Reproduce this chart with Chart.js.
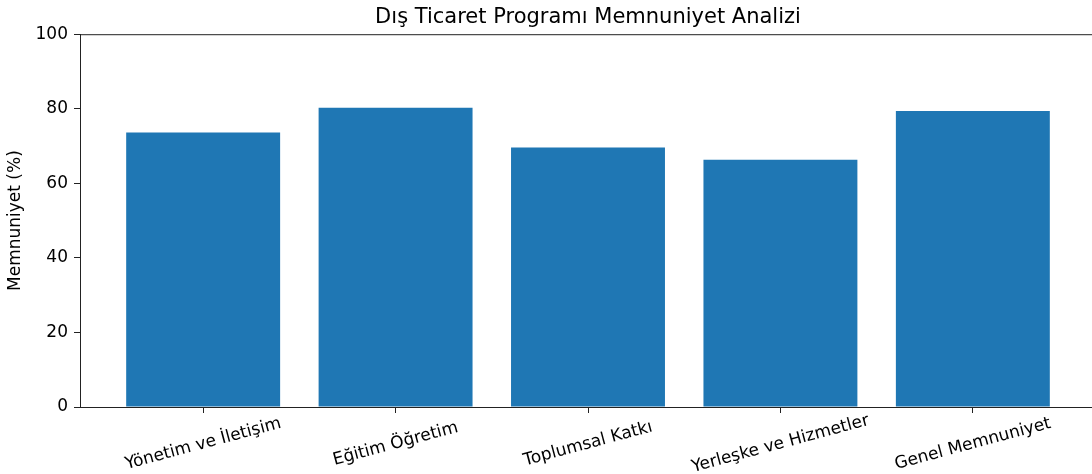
<!DOCTYPE html>
<html>
<head>
<meta charset="utf-8">
<script src="https://cdn.jsdelivr.net/npm/chart.js@4.4.1/dist/chart.umd.min.js"></script>
<style>
  html, body { margin: 0; padding: 0; background: #fff; overflow: hidden; }
  #wrap { width: 1092px; height: 474px; overflow: hidden; }
</style>
</head>
<body>
<div id="wrap"><canvas id="chart" width="1100" height="474"></canvas></div>
<script>
const categories = ['Yönetim ve İletişim', 'Eğitim Öğretim', 'Toplumsal Katkı', 'Yerleşke ve Hizmetler', 'Genel Memnuniyet'];
const satisfaction = [73.6, 80.3, 69.6, 66.3, 79.4];
const yTicks = [0, 20, 40, 60, 80, 100];

const textColor = '#000';
const lineColor = '#222';
const fontFamily = '"DejaVu Sans", sans-serif';

// matplotlib-style box around the plot and centred rotated x labels
const boxAndLabels = {
  id: 'boxAndLabels',
  afterDraw(chart) {
    const { ctx, chartArea } = chart;
    const x = chart.scales.x;
    ctx.save();
    ctx.strokeStyle = lineColor;
    ctx.lineWidth = 1;
    ctx.strokeRect(chartArea.left + 0.5, chartArea.top + 0.5,
      chartArea.right - chartArea.left, chartArea.bottom - chartArea.top);

    ctx.fillStyle = textColor;
    ctx.font = '17px ' + fontFamily;
    ctx.textAlign = 'center';
    ctx.textBaseline = 'middle';
    categories.forEach((label, i) => {
      const px = x.getPixelForValue(i);
      ctx.save();
      ctx.translate(px, chartArea.bottom + 37);
      ctx.rotate(-15 * Math.PI / 180);
      ctx.fillText(label, 0, 0);
      ctx.restore();
    });
    ctx.restore();
  }
};

new Chart(document.getElementById('chart'), {
  type: 'bar',
  data: {
    datasets: [{
      data: satisfaction.map((v, i) => ({ x: i, y: v })),
      backgroundColor: '#1f77b4',
      borderWidth: 0,
      barPercentage: 0.8,
      categoryPercentage: 1
    }]
  },
  options: {
    responsive: false,
    animation: false,
    layout: { padding: { left: 0, right: 4, top: 0, bottom: 0 } },
    plugins: {
      legend: { display: false },
      tooltip: { enabled: false },
      title: {
        display: true,
        fullSize: false,
        text: 'Dış Ticaret Programı Memnuniyet Analizi',
        color: textColor,
        font: { family: fontFamily, size: 21, weight: 'normal' },
        padding: { top: 5, bottom: 4 }
      }
    },
    scales: {
      x: {
        type: 'linear',
        min: -0.64,
        max: 4.64,
        offset: false,
        afterFit: s => { s.height = 67; },
        afterBuildTicks: s => { s.ticks = categories.map((c, i) => ({ value: i })); },
        ticks: { display: false, includeBounds: false },
        grid: { offset: false, drawOnChartArea: false, tickLength: 6, color: lineColor },
        border: { color: lineColor }
      },
      y: {
        min: 0,
        max: 100,
        afterFit: s => { s.width = 80; },
        afterBuildTicks: s => { s.ticks = yTicks.map(v => ({ value: v })); },
        ticks: {
          color: textColor,
          padding: 6,
          font: { family: fontFamily, size: 17 }
        },
        grid: { drawOnChartArea: false, tickLength: 6, color: lineColor },
        border: { color: lineColor },
        title: {
          display: true,
          text: 'Memnuniyet (%)',
          color: textColor,
          font: { family: fontFamily, size: 17 },
          padding: { top: 5, bottom: 0 }
        }
      }
    }
  },
  plugins: [boxAndLabels]
});
</script>
</body>
</html>
